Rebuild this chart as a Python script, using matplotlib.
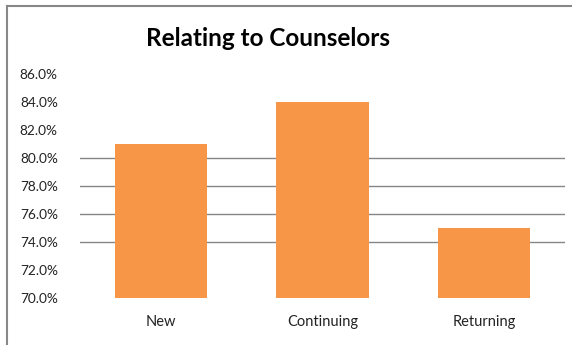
import matplotlib
matplotlib.use("Agg")
import matplotlib.pyplot as plt
from matplotlib.lines import Line2D

categories = ["New", "Continuing", "Returning"]
values = [81.0, 84.0, 75.0]
yticks = [70, 72, 74, 76, 78, 80, 82, 84, 86]
grid_levels = [74, 76, 78, 80]
title = "Relating to Counselors"

plt.rcParams['font.family'] = ['Lato', 'DejaVu Sans']

fig = plt.figure(figsize=(5.72, 3.45), dpi=100)
ax = fig.add_axes([80/572, 1-298/345, (565-80)/572, (298-74)/345])

x = range(len(categories))
for g in grid_levels:
    ax.axhline(g, color="#868686", linewidth=1.0, zorder=1)
ax.bar(x, values, width=0.57, color="#F79646", bottom=0, zorder=2)
ax.set_ylim(70, 86)
ax.set_xlim(-0.5, 2.5)
ax.set_yticks(yticks)
ax.set_yticklabels([f"{v:.1f}%" for v in yticks], fontsize=9.8, color="#222222")
ax.set_xticks(list(x))
ax.set_xticklabels(categories, fontsize=10.5, color="#222222")
ax.tick_params(axis='y', length=0, pad=16)
ax.tick_params(axis='x', length=0, pad=12)
for s in ax.spines.values():
    s.set_visible(False)

fig.text(268/572, 1-38/345, title, ha="center", va="center", fontsize=17.5, fontweight="bold", color="black")

# outer border (top and left)
fig.add_artist(Line2D([6.5/572, 6.5/572], [0, 1-5.5/345], transform=fig.transFigure, color="#888888", linewidth=1.5))
fig.add_artist(Line2D([6.5/572, 1], [1-5.5/345, 1-5.5/345], transform=fig.transFigure, color="#888888", linewidth=1.5))

fig.savefig("out.png", dpi=100, facecolor="white")
